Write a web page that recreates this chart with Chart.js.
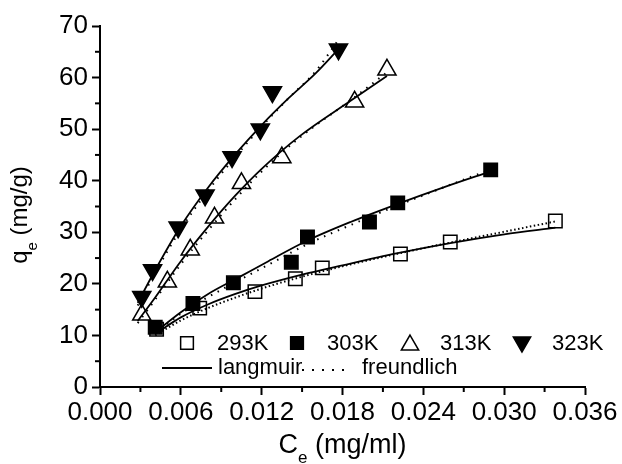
<!DOCTYPE html>
<html>
<head>
<meta charset="utf-8">
<script src="https://cdn.jsdelivr.net/npm/chart.js@4.4.0/dist/chart.umd.min.js"></script>
<style>
    body { margin: 0; background: #fff; }
    #wrap { width: 622px; height: 464px; }
</style>
</head>
<body>
<div id="wrap"><canvas id="isotherm" width="622" height="464"></canvas></div>
<script>
// measured points (Ce in mg/ml, qe in mg/g)
const temps = ['293K', '303K', '313K', '323K'];
const ce293 = [0.0042, 0.0074, 0.0115, 0.0145, 0.0165, 0.0223, 0.0260, 0.0338];
const qe293 = [11.2, 15.3, 18.5, 21.0, 23.1, 25.8, 28.1, 32.2];
const ce303 = [0.0041, 0.0069, 0.0099, 0.0142, 0.0154, 0.0200, 0.0221, 0.0290];
const qe303 = [11.6, 16.2, 20.2, 24.2, 29.1, 32.0, 35.7, 42.1];
const ce313 = [0.0031, 0.0050, 0.0067, 0.0085, 0.0105, 0.0135, 0.0189, 0.0213];
const qe313 = [14.0, 20.4, 26.6, 32.8, 39.5, 44.5, 55.3, 61.5];
const ce323 = [0.0031, 0.0039, 0.0058, 0.0078, 0.0098, 0.0119, 0.0128, 0.0177];
const qe323 = [17.5, 22.7, 31.0, 37.2, 44.6, 50.0, 57.2, 65.5];

// fitted curves
const fitCe293 = [0.0041, 0.006, 0.008, 0.010, 0.012, 0.015, 0.018, 0.022, 0.026, 0.030, 0.0338];
const lang293 = [10.3, 13.5, 16.0, 18.0, 19.7, 21.8, 23.6, 25.9, 27.9, 29.6, 30.9];
const freu293 = [10.0, 12.9, 15.3, 17.3, 19.1, 21.4, 23.4, 25.8, 28.0, 30.1, 32.1];
const fitCe303 = [0.0041, 0.006, 0.008, 0.0104, 0.0125, 0.0154, 0.0186, 0.0221, 0.0255, 0.029];
const lang303 = [10.6, 14.5, 18.0, 21.4, 24.4, 28.4, 32.0, 35.5, 38.7, 41.8];
const freu303 = [10.4, 14.2, 17.4, 20.8, 23.7, 27.7, 31.4, 35.2, 38.7, 42.2];
const fitCe313 = [0.0028, 0.004, 0.006, 0.008, 0.010, 0.012, 0.0148, 0.0186, 0.0213];
const lang313 = [12.8, 17.0, 24.4, 31.0, 37.0, 42.3, 48.6, 55.5, 60.3];
const freu313 = [12.4, 16.6, 23.8, 30.3, 36.3, 41.8, 48.3, 55.6, 61.0];
const fitCe323 = [0.0028, 0.004, 0.006, 0.008, 0.010, 0.012, 0.014, 0.016, 0.0177];
const lang323 = [16.3, 22.2, 31.2, 38.6, 45.0, 50.8, 56.0, 60.8, 65.5];
const freu323 = [15.8, 21.7, 30.6, 38.0, 44.5, 50.5, 56.0, 61.2, 67.3];

const fitNames = ['langmuir', 'freundlich'];

const FONT = 'Liberation Sans, Arial, sans-serif';

function toPoints(xs, ys) {
    return xs.map((x, i) => ({ x: x, y: ys[i] }));
}

function markerSet(label, xs, ys, style, filled, rotation) {
    return {
        label: label,
        data: toPoints(xs, ys),
        showLine: false,
        pointStyle: style,
        pointRotation: rotation || 0,
        pointRadius: style === 'rect' ? 9.5 : 10.5,
        pointBorderWidth: 1.5,
        pointBorderColor: '#000',
        pointBackgroundColor: filled ? '#000' : 'rgba(0,0,0,0)',
        order: 0
    };
}

function curveSet(label, xs, ys, dash) {
    return {
        label: label,
        data: toPoints(xs, ys),
        showLine: true,
        pointRadius: 0,
        borderColor: '#000',
        borderWidth: dash ? 2 : 1.8,
        borderDash: dash || [],
        cubicInterpolationMode: 'monotone',
        order: 1
    };
}

const markers = [
    markerSet(temps[0], ce293, qe293, 'rect', false),
    markerSet(temps[1], ce303, qe303, 'rect', true),
    markerSet(temps[2], ce313, qe313, 'triangle', false),
    markerSet(temps[3], ce323, qe323, 'triangle', true, 180)
];

const curves = [
    curveSet(fitNames[0], fitCe293, lang293),
    curveSet(fitNames[1], fitCe293, freu293, [1.5, 2.5]),
    curveSet(fitNames[0], fitCe303, lang303),
    curveSet(fitNames[1], fitCe303, freu303, [1.5, 6]),
    curveSet(fitNames[0], fitCe313, lang313),
    curveSet(fitNames[1], fitCe313, freu313, [1.5, 6]),
    curveSet(fitNames[0], fitCe323, lang323),
    curveSet(fitNames[1], fitCe323, freu323, [1.5, 6])
];

// minor ticks halfway between the labelled ones
const minorTicks = {
    id: 'minorTicks',
    afterDraw(chart) {
        const ctx = chart.ctx;
        ctx.save();
        ctx.strokeStyle = '#000';
        ctx.lineWidth = 2;
        const xs = chart.scales.x, ys = chart.scales.y;
        const area = chart.chartArea;
        for (let i = 0; i < xs.ticks.length - 1; i++) {
            const px = xs.getPixelForValue((xs.ticks[i].value + xs.ticks[i + 1].value) / 2);
            ctx.beginPath();
            ctx.moveTo(px, area.bottom);
            ctx.lineTo(px, area.bottom + 5);
            ctx.stroke();
        }
        for (let i = 0; i < ys.ticks.length - 1; i++) {
            const py = ys.getPixelForValue((ys.ticks[i].value + ys.ticks[i + 1].value) / 2);
            ctx.beginPath();
            ctx.moveTo(area.left, py);
            ctx.lineTo(area.left - 5, py);
            ctx.stroke();
        }
        ctx.restore();
    }
};

// axis titles with subscript e
function drawSubTitle(ctx, main, sub, rest, size) {
    ctx.font = size + 'px ' + FONT;
    const w1 = ctx.measureText(main).width;
    const w3 = ctx.measureText(rest).width;
    ctx.font = Math.round(size * 0.64) + 'px ' + FONT;
    const w2 = ctx.measureText(sub).width;
    let x = -(w1 + w2 + w3) / 2;
    ctx.font = size + 'px ' + FONT;
    ctx.fillText(main, x, 0);
    x += w1;
    ctx.font = Math.round(size * 0.64) + 'px ' + FONT;
    ctx.fillText(sub, x, 10);
    x += w2;
    ctx.font = size + 'px ' + FONT;
    ctx.fillText(rest, x, 0);
}

const axisTitles = {
    id: 'axisTitles',
    afterDraw(chart) {
        const ctx = chart.ctx;
        const area = chart.chartArea;
        ctx.save();
        ctx.fillStyle = '#000';
        ctx.textBaseline = 'alphabetic';
        ctx.textAlign = 'left';
        ctx.save();
        ctx.translate((area.left + area.right) / 2, 453);
        drawSubTitle(ctx, 'C', 'e', ' (mg/ml)', 27);
        ctx.restore();
        ctx.save();
        ctx.translate(27, 215);
        ctx.rotate(-Math.PI / 2);
        drawSubTitle(ctx, 'q', 'e', ' (mg/g)', 24);
        ctx.restore();
        ctx.restore();
    }
};

// legend sits inside the plot, two rows
const insideLegend = {
    id: 'insideLegend',
    afterDraw(chart) {
        const ctx = chart.ctx;
        const area = chart.chartArea;
        const row1 = area.bottom - 44;
        const row2 = area.bottom - 19;
        ctx.save();
        ctx.fillStyle = '#000';
        ctx.font = '22px ' + FONT;
        ctx.textBaseline = 'middle';
        ctx.textAlign = 'left';
        const symX = [187, 297, 410, 522];
        markers.forEach((ds, i) => {
            ctx.strokeStyle = '#000';
            ctx.lineWidth = ds.pointBorderWidth;
            ctx.fillStyle = ds.pointBackgroundColor;
            Chart.helpers.drawPoint(ctx, {
                pointStyle: ds.pointStyle,
                rotation: ds.pointRotation,
                radius: ds.pointStyle === 'rect' ? 9 : 10,
                borderWidth: ds.pointBorderWidth
            }, symX[i], row1 + (ds.pointStyle === 'triangle' ? (ds.pointRotation ? -1 : 2) : 0));
            ctx.fillStyle = '#000';
            ctx.fillText(ds.label, symX[i] + 30, row1 + 1);
        });
        ctx.strokeStyle = '#000';
        ctx.lineWidth = 2;
        ctx.beginPath();
        ctx.moveTo(162, row2);
        ctx.lineTo(212, row2);
        ctx.stroke();
        ctx.fillText(fitNames[0], 218, row2);
        ctx.setLineDash([2, 8]);
        ctx.beginPath();
        ctx.moveTo(302, row2 + 2);
        ctx.lineTo(352, row2 + 2);
        ctx.stroke();
        ctx.setLineDash([]);
        ctx.fillText(fitNames[1], 362, row2);
        ctx.restore();
    }
};

const ctx = document.getElementById('isotherm').getContext('2d');
new Chart(ctx, {
    type: 'scatter',
    data: { datasets: markers.concat(curves) },
    options: {
        responsive: false,
        animation: false,
        layout: { padding: { left: 0, top: 26, right: 37, bottom: 0 } },
        plugins: {
            legend: { display: false },
            tooltip: { enabled: false }
        },
        scales: {
            x: {
                type: 'linear',
                min: 0,
                max: 0.036,
                afterFit: scale => { scale.height = 77; },
                ticks: {
                    stepSize: 0.006,
                    color: '#000',
                    padding: 2,
                    maxRotation: 0,
                    font: { family: FONT, size: 26 },
                    callback: v => Number(v).toFixed(3)
                },
                grid: {
                    drawOnChartArea: false,
                    tickLength: 8,
                    tickWidth: 2,
                    tickColor: '#000'
                },
                border: { display: true, color: '#000', width: 2 }
            },
            y: {
                type: 'linear',
                min: 0,
                max: 70,
                afterFit: scale => { scale.width = 100; },
                ticks: {
                    stepSize: 10,
                    color: '#000',
                    padding: 4,
                    font: { family: FONT, size: 26 }
                },
                grid: {
                    drawOnChartArea: false,
                    tickLength: 8,
                    tickWidth: 2,
                    tickColor: '#000'
                },
                border: { display: true, color: '#000', width: 2 }
            }
        }
    },
    plugins: [minorTicks, axisTitles, insideLegend]
});
</script>
</body>
</html>
